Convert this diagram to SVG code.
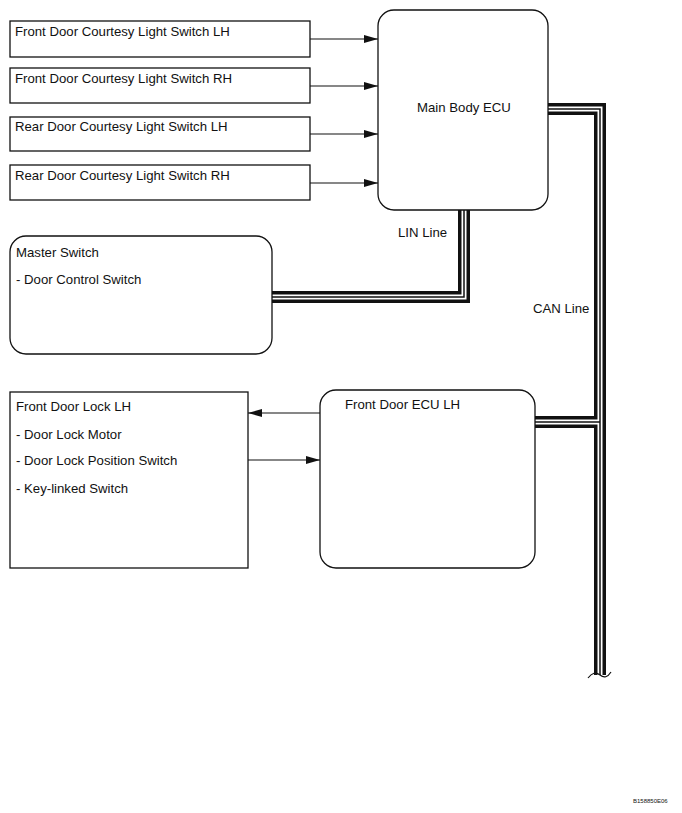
<svg xmlns="http://www.w3.org/2000/svg" width="682" height="813" viewBox="0 0 682 813">
<style>
.box{fill:#fff;stroke:#111;stroke-width:1.3}
.t{font-family:"Liberation Sans",Arial,sans-serif;font-size:13.2px;fill:#111}
.w{fill:none;stroke:#111;stroke-width:1.2}
.b1{fill:none;stroke:#111;stroke-width:12}
.b2{fill:none;stroke:#fff;stroke-width:5}
.b3{fill:none;stroke:#111;stroke-width:1.5}
</style>
<defs>
<marker id="ah" markerWidth="14" markerHeight="8" refX="14" refY="4" orient="auto" markerUnits="userSpaceOnUse">
<path d="M0,0 L14,4 L0,8 Z" fill="#111"/>
</marker>
</defs>
<rect width="682" height="813" fill="#fff"/>
<g id="connectors">
<line class="w" x1="310" y1="39" x2="378" y2="39" marker-end="url(#ah)"/>
<line class="w" x1="310" y1="86" x2="378" y2="86" marker-end="url(#ah)"/>
<line class="w" x1="310" y1="134" x2="378" y2="134" marker-end="url(#ah)"/>
<line class="w" x1="310" y1="183" x2="378" y2="183" marker-end="url(#ah)"/>
<line class="w" x1="320" y1="413" x2="248" y2="413" marker-end="url(#ah)"/>
<line class="w" x1="248" y1="460" x2="320" y2="460" marker-end="url(#ah)"/>
<g id="lin">
<path class="b1" d="M464,210 V297 H272"/>
<path class="b2" d="M464,210 V297 H272"/>
<path class="b3" d="M464,210 V297 H272"/>
</g>
<g id="can">
<path class="b1" d="M548,109 H600 V675"/>
<path class="b1" d="M535,422 H600"/>
<path class="b2" d="M548,109 H600 V675"/>
<path class="b2" d="M535,422 H598"/>
<path class="b3" d="M548,109 H600 V675"/>
<path class="b3" d="M535,422 H600"/>
<path d="M588,678 Q594,670 600,675 Q606,680 611,672" fill="none" stroke="#111" stroke-width="1.2"/>
</g>
</g>
<g id="fdcl-lh"><rect class="box" x="10" y="21" width="300" height="36"/><text class="t" x="15" y="36">Front Door Courtesy Light Switch LH</text></g>
<g id="fdcl-rh"><rect class="box" x="10" y="68" width="300" height="35"/><text class="t" x="15" y="83">Front Door Courtesy Light Switch RH</text></g>
<g id="rdcl-lh"><rect class="box" x="10" y="117" width="300" height="34"/><text class="t" x="15" y="131">Rear Door Courtesy Light Switch LH</text></g>
<g id="rdcl-rh"><rect class="box" x="10" y="165" width="300" height="35"/><text class="t" x="15" y="180">Rear Door Courtesy Light Switch RH</text></g>
<g id="main-body-ecu"><rect class="box" x="378" y="10" width="170" height="200" rx="16"/><text class="t" x="417" y="112">Main Body ECU</text></g>
<g id="master-switch"><rect class="box" x="10" y="236" width="262" height="118" rx="16"/><text class="t" x="16" y="257">Master Switch</text><text class="t" x="16" y="284">- Door Control Switch</text></g>
<g id="front-door-lock-lh"><rect class="box" x="10" y="392" width="238" height="176"/><text class="t" x="16" y="411">Front Door Lock LH</text><text class="t" x="16" y="439">- Door Lock Motor</text><text class="t" x="16" y="465">- Door Lock Position Switch</text><text class="t" x="16" y="493">- Key-linked Switch</text></g>
<g id="front-door-ecu-lh"><rect class="box" x="320" y="390" width="215" height="178" rx="16"/><text class="t" x="345" y="409">Front Door ECU LH</text></g>
<text class="t" x="398" y="237">LIN Line</text>
<text class="t" x="533" y="313">CAN Line</text>
<text x="633" y="803" style="font-family:'Liberation Sans',Arial,sans-serif;font-size:6px;fill:#111">B158850E06</text>
</svg>
